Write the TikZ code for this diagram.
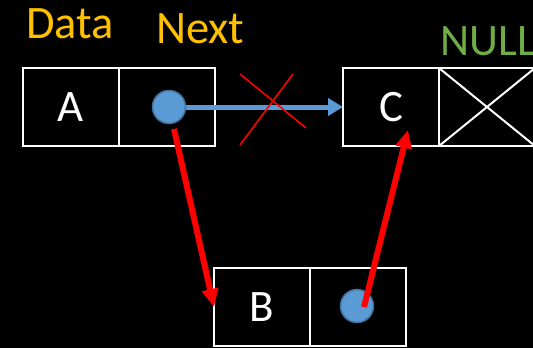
\documentclass[tikz,border=0pt]{standalone}
\usepackage{fontspec}
\setmainfont{Carlito}
\usetikzlibrary{arrows.meta}
\definecolor{hdrc}{HTML}{FFC000}
\definecolor{nullc}{HTML}{70AD47}
\definecolor{ptrc}{HTML}{5B9BD5}
\definecolor{ptredge}{HTML}{41719C}
\definecolor{newlink}{HTML}{FF0000}
\tikzset{
  cell/.style={draw=white, line width=2.2pt, minimum width=96pt, minimum height=78pt,
    inner sep=0pt, outer sep=0pt, text=white, font=\fontsize{45}{45}\selectfont},
  hdr/.style={text=hdrc, inner sep=0pt, font=\fontsize{46.5}{46.5}\selectfont},
  ptrdot/.style={circle, fill=ptrc, draw=ptredge, line width=1.5pt,
    minimum size=33pt, inner sep=0pt, outer sep=0pt},
  oldlink/.style={draw=ptrc, line width=5pt,
    -{Triangle[length=15pt, width=17pt]}},
  redlink/.style={draw=newlink, line width=6pt,
    -{Triangle[length=18pt, width=16pt]}},
  strike/.style={draw=newlink, line width=1.6pt},
  nullx/.style={draw=white, line width=2pt}
}
\begin{document}
\begin{tikzpicture}[x=1pt, y=-1pt]
\fill[black] (0,0) rectangle (533,348);
\useasboundingbox (0,0) rectangle (533,348);

% field labels
\node[hdr, anchor=base west] (lbldata) at (26,38) {Data};
\node[hdr, anchor=base west] (lblnext) at (156,43) {Next};
\node[text=nullc, inner sep=0pt, font=\fontsize{45}{45}\selectfont, anchor=base west] (lblnull) at (440,55) {NULL};

% list nodes
\node[cell] (Ad) at (71,107) {A};
\node[cell] (An) at (167,107) {};
\node[cell] (Cd) at (391,107) {C};
\node[cell] (Cn) at (487,107) {};
\node[cell] (Bd) at (262,307) {B};
\node[cell] (Bn) at (358,307) {};

% NULL pointer cross
\draw[nullx] (Cn.north west) -- (Cn.south east);
\draw[nullx] (Cn.south west) -- (Cn.north east);

% pointers
\node[ptrdot] (pa) at (169,107) {};
\node[ptrdot] (pb) at (357,306) {};

% old link A -> C, struck out
\draw[oldlink] (pa.east) -- (Cd.west);
\coordinate (x1a) at (240,74);
\coordinate (x1b) at (306,128);
\coordinate (x2a) at (293,74);
\coordinate (x2b) at (240,145);
\draw[strike] (x1a) -- (x1b);
\draw[strike] (x2a) -- (x2b);

% new links A -> B -> C
\draw[redlink, shorten <=6pt] (pa) -- (Bd.west);
\coordinate (bstart) at (364,307);
\coordinate (ctarget) at (408,130);
\draw[redlink] (bstart) -- (ctarget);
\end{tikzpicture}
\end{document}
